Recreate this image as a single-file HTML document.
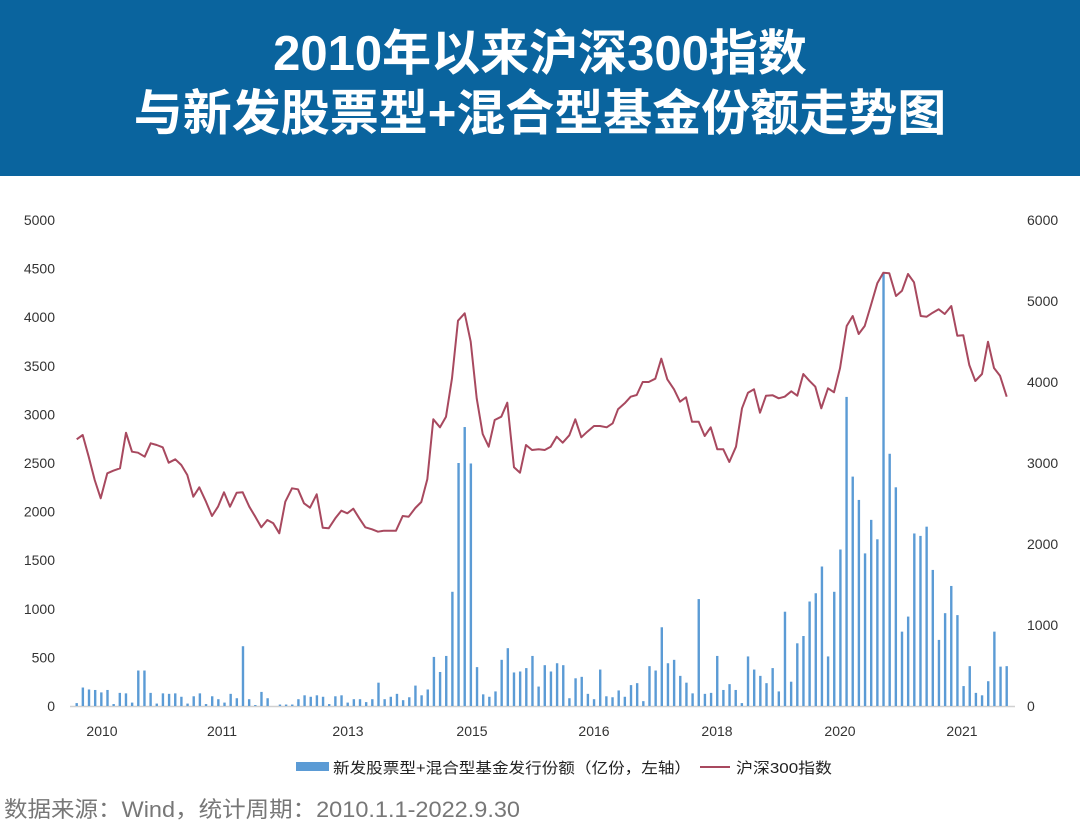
<!DOCTYPE html>
<html><head><meta charset="utf-8"><style>
body{margin:0;width:1080px;height:824px;background:#fff;overflow:hidden;font-family:"Liberation Sans","Noto Sans CJK SC",sans-serif}
#ban{position:absolute;left:0;top:0;width:1080px;height:176px;background:#0a649e;color:#fff;text-align:center;font-weight:bold;font-size:49px;line-height:60px;padding-top:24px;box-sizing:border-box}
svg{position:absolute;left:0;top:0}
</style></head><body>
<div id="ban">2010年以来沪深300指数<br>与新发股票型+混合型基金份额走势图</div>
<svg id="s" width="1080" height="824" font-family="Liberation Sans, Noto Sans CJK SC, sans-serif"></svg>
<script>
var s=document.getElementById('s'),h='';
for(var i=0;i<=10;i++){var y=706-i*48.6;h+='<text x="55" y="'+(y+5)+'" font-size="14" fill="#333" text-anchor="end">'+(i*500)+'</text>';}
for(var i=0;i<=6;i++){var y=706-i*81;h+='<text x="1027" y="'+(y+5)+'" font-size="14" fill="#333">'+(i*1000)+'</text>';}
h+='<line x1="70" y1="706.5" x2="1015" y2="706.5" stroke="#d0d0d0" stroke-width="1.5"/>';
var yr=[[102,2010],[222,2011],[348,2013],[472,2015],[594,2016],[717,2018],[840,2020],[962,2021]];
yr.forEach(function(a){h+='<text x="'+a[0]+'" y="736" font-size="14" fill="#333" text-anchor="middle">'+a[1]+'</text>';});
var b=[30,190,170,165,140,165,20,135,130,35,365,365,135,25,130,125,130,95,25,100,130,20,100,70,35,125,80,615,70,10,145,80,0,15,15,15,70,110,95,110,95,20,100,110,35,70,70,40,70,240,70,95,125,60,90,210,110,170,505,350,515,1175,2500,2870,2495,400,120,95,150,475,595,345,355,390,515,200,
420,355,440,420,80,285,300,125,70,375,100,90,160,95,215,235,50,410,365,810,440,475,310,240,130,1100,125,135,515,165,225,165,30,510,375,310,235,390,150,970,250,645,720,1075,1160,1435,510,1175,1610,3180,2360,2120,1570,1915,1715,4450,2595,2250,765,920,1775,1750,1845,1400,680,955,1235,935,205,410,135,110,255,765,405,410];
var n=b.length,st=(1006.7-76.7)/(n-1);
b.forEach(function(v,i){var x=76.7+i*st,hh=v*0.0972;if(hh>0)h+='<rect x="'+(x-1.2)+'" y="'+(706-hh)+'" width="2.4" height="'+hh+'" fill="#5b9bd5"/>';});
var l1=[50,478,68,465,86,530,104,600,122,655,142,580,160,572,180,565,198,458,216,515,234,518,254,530,272,490,290,495,308,502,326,548,346,538,364,555,382,585,400,650,418,622,438,665,456,708,474,680,492,637,510,680,530,638,548,637,568,680,586,710,604,742,622,720,640,730,658,760,676,665,696,625,714,628,732,670,750,683,770,643,788,743,806,745,826,715,844,692,862,700,880,686,898,715,916,742,936,748,954,755,972,752,990,752,1008,752,1028,708,1046,710,1066,684,1084,666,1102,598,1120,418,1140,442,1158,410,1176,295,1194,122,1214,100,1232,185,1250,355,1268,462,1286,500,1304,420,1324,410,1342,368,1362,562,1380,578,1398,495,1416,510];
var l2=[6,595,26,598,44,600,62,590,80,560,98,578,118,556,136,508,154,562,172,545,192,528,210,528,230,532,248,520,264,478,284,460,302,440,320,435,338,396,356,396,376,386,394,326,412,388,432,418,450,455,468,442,486,515,506,515,524,558,542,532,562,598,580,598,598,636,618,590,636,475,654,428,672,418,690,488,708,437,728,436,746,445,764,440,784,424,802,437,820,372,838,392,856,410,874,475,894,415,912,427,930,355,950,228,968,198,986,252,1004,228,1022,168,1042,100,1060,68,1078,70,1098,138,1116,122,1134,72,1152,97,1172,198,1190,200,1208,188,1226,178,1244,192,1264,168,1282,257,1300,256,1318,345,1336,393,1356,372,1374,275,1392,354,1410,377,1430,440];
var p=[];for(var i=0;i<l1.length;i+=2)p.push((60+l1[i]/3).toFixed(1)+','+(280+l1[i+1]/3).toFixed(1));
for(var i=2;i<l2.length;i+=2)p.push((530+l2[i]/3).toFixed(1)+','+(250+l2[i+1]/3).toFixed(1));
h+='<polyline points="'+p.join(' ')+'" fill="none" stroke="#a8495f" stroke-width="2" stroke-linejoin="round"/>';
h+='<rect x="296" y="762" width="33" height="9" fill="#5b9bd5"/>';
h+='<text x="333" y="773" font-size="15" fill="#222" textLength="358" lengthAdjust="spacingAndGlyphs">新发股票型+混合型基金发行份额（亿份，左轴）</text>';
h+='<line x1="700" y1="767" x2="730" y2="767" stroke="#a8495f" stroke-width="2"/>';
h+='<text x="736" y="773" font-size="15" fill="#222" textLength="96" lengthAdjust="spacingAndGlyphs">沪深300指数</text>';
h+='<text x="4" y="817" font-size="22" fill="#777" textLength="516" lengthAdjust="spacingAndGlyphs">数据来源：Wind，统计周期：2010.1.1-2022.9.30</text>';
s.innerHTML=h;
</script>
</body></html>
